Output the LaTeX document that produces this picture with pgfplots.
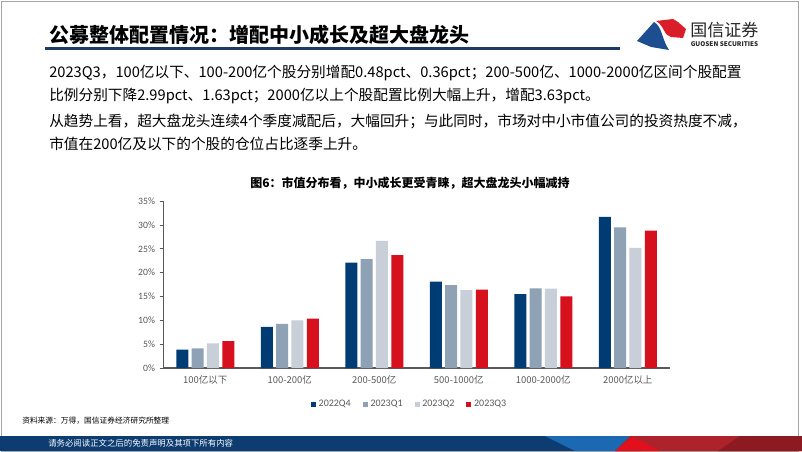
\documentclass[border=0pt]{standalone}
\usepackage{pgfplots}
\pgfplotsset{compat=1.18}
\usepackage{fontspec}
\setmainfont{Noto Sans CJK SC}
\newfontfamily\cjk{Noto Sans CJK SC}
\newfontfamily\calibri{Carlito}
\definecolor{navy}{HTML}{003C74}
\definecolor{qone}{HTML}{8FA1B4}
\definecolor{qtwo}{HTML}{C8CFD8}
\definecolor{qthree}{HTML}{D7101D}
\definecolor{axisgrey}{HTML}{595959}
\definecolor{txtgrey}{HTML}{595959}
\definecolor{rulenavy}{HTML}{1F3A66}
\definecolor{bandnavy}{HTML}{0C3C70}
\definecolor{bandblue}{HTML}{1B68B3}
\definecolor{bandred}{HTML}{E3101C}
\definecolor{banddark}{HTML}{AE222C}
\definecolor{banddarker}{HTML}{8E1A21}
\definecolor{logoblue}{HTML}{1D4E8F}
\definecolor{logored}{HTML}{D91E2A}
\begin{document}
\begin{tikzpicture}
\begin{scope}[x=0.75pt,y=-0.75pt]
  % page
  \fill[white] (0,0) rectangle (802,451);
  \draw[gray!70,line width=0.75pt] (1,1) rectangle (798,451);
  % title
  \node[anchor=west,inner sep=0,font=\bfseries\fontsize{15}{18}\selectfont] at (49,35) {公募整体配置情况：增配中小成长及超大盘龙头};
  \draw[rulenavy,line width=2pt] (45,48.5) -- (620,48.5);
  % logo
  \fill[logoblue] (637,41) -- (654,22) .. controls (662,26) and (662,40) .. (669,50) -- (651,47) -- cycle;
  \fill[logored] (656,21) -- (673,19) -- (678,22) -- (686,29) -- (683,38) -- (671,37) .. controls (664,36) and (664,25) .. cycle;
  \node[anchor=west,inner sep=0,text=black!85,font=\fontsize{12.75}{14}\selectfont] at (690,30.5) {国信证券};
  \node[anchor=west,inner sep=0,text=black!85,font=\bfseries\fontsize{4.8}{6}\selectfont] at (690.5,44.5) {GUOSEN SECURITIES};
  % body text
  \begin{scope}[every node/.style={anchor=west,inner sep=0,font=\fontsize{11}{13}\selectfont}]
    \node at (49,73) {2023Q3，100亿以下、100-200亿个股分别增配0.48pct、0.36pct；200-500亿、1000-2000亿区间个股配置};
    \node at (49,96) {比例分别下降2.99pct、1.63pct；2000亿以上个股配置比例大幅上升，增配3.63pct。};
    \node at (49,121) {从趋势上看，超大盘龙头连续4个季度减配后，大幅回升；与此同时，市场对中小市值公司的投资热度不减，};
    \node at (49,144) {市值在200亿及以下的个股的仓位占比逐季上升。};
  \end{scope}
  % caption
  \node[inner sep=0,font=\bfseries\fontsize{9}{11}\selectfont] at (410,183) {图6：市值分布看，中小成长更受青睐，超大盘龙头小幅减持};
  % source
  \node[anchor=west,inner sep=0,font=\fontsize{5.8}{7}\selectfont] at (22,421) {资料来源：万得，国信证券经济研究所整理};
  % footer band
  \fill[bandnavy] (0,436) rectangle (802,451);
  \fill[bandblue] (545,436) -- (640,436) -- (640,451) -- (575,451) -- cycle;
  \fill[banddark] (630,436) -- (802,436) -- (802,451) -- (615,451) -- cycle;
  \fill[bandred] (615,451) -- (633,437) -- (660,451) -- cycle;
  \fill[banddarker] (718,451) -- (740,436) -- (802,436) -- (802,451) -- cycle;
  \node[anchor=west,inner sep=0,text=white,font=\fontsize{6.3}{8}\selectfont] at (48,443.5) {请务必阅读正文之后的免责声明及其项下所有内容};
\end{scope}

\begin{axis}[
  at={(122.25pt,-276pt)}, anchor=south west,
  scale only axis, width=380.25pt, height=125.25pt,
  ybar=2.5pt, bar width=9pt,
  xmin=-0.5, xmax=5.5, ymin=0, ymax=35,
  xtick={0,...,5},
  xticklabels={100亿以下,100-200亿,200-500亿,500-1000亿,1000-2000亿,2000亿以上},
  ytick={0,5,...,35},
  yticklabel={\pgfmathprintnumber{\tick}\%},
  /pgf/number format/assume math mode=true,
  axis x line*=bottom, axis y line*=left,
  x axis line style={draw=axisgrey,line width=1.1pt,-},
  y axis line style={draw=axisgrey,line width=0.6pt,-},
  xtick style={draw=none},
  ytick style={draw=axisgrey,line width=0.5pt},
  major tick length=2.5pt, tick align=outside,
  xticklabel style={font=\cjk\fontsize{7.1}{8}\selectfont,text=txtgrey},
  yticklabel style={font=\calibri\fontsize{7.3}{8}\selectfont,text=txtgrey},
  legend style={at={(0.487,-0.216)},anchor=center,draw=none,fill=none,
    font=\calibri\fontsize{7.5}{9}\selectfont,text=txtgrey,
    /tikz/every even column/.append style={column sep=7pt}},
  legend columns=4,
  mybar/.style={fill=#1,draw=none,
    legend image code/.code={\fill[#1] (0pt,-1.9pt) rectangle (3.8pt,1.9pt);}},
]
\addplot[mybar=navy] coordinates {(0,3.85) (1,8.6) (2,22.1) (3,18.1) (4,15.5) (5,31.7)};
\addplot[mybar=qone] coordinates {(0,4.13) (1,9.24) (2,22.8) (3,17.35) (4,16.7) (5,29.5)};
\addplot[mybar=qtwo] coordinates {(0,5.15) (1,10.0) (2,26.65) (3,16.3) (4,16.63) (5,25.17)};
\addplot[mybar=qthree] coordinates {(0,5.63) (1,10.36) (2,23.66) (3,16.45) (4,15.0) (5,28.8)};
\legend{2022Q4,2023Q1,2023Q2,2023Q3}
\end{axis}
\end{tikzpicture}
\end{document}
